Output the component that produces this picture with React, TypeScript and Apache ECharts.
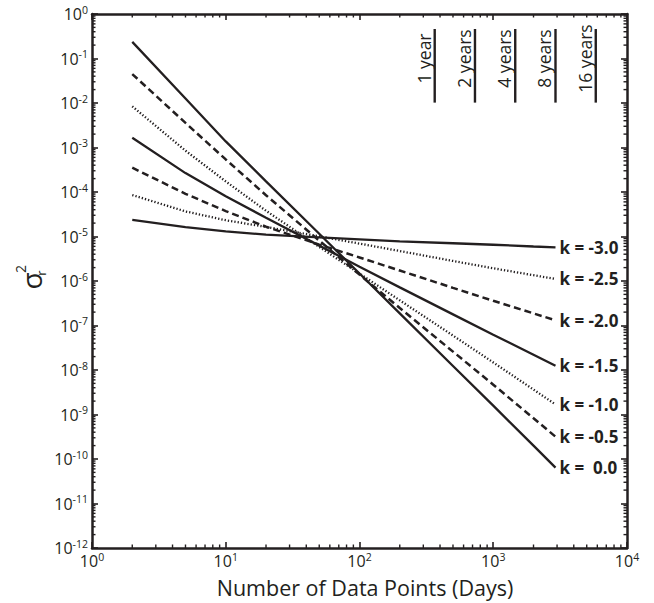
import React, { useEffect, useRef } from "react";
import * as echarts from "echarts";

// Number of data points (days)
const N = [2, 5, 10, 20, 50, 100, 200, 500, 1000, 2000, 2920];
// sigma_r^2, one array per spectral index k
const k00 = [2.36e-1, 1.26e-2, 1.37e-3, 1.73e-4, 1.15e-5, 1.47e-6, 1.87e-7, 1.23e-8, 1.58e-9, 2.0e-10, 6.4e-11];
const k05 = [4.47e-2, 3.57e-3, 5.39e-4, 8.47e-5, 8.07e-6, 1.39e-6, 2.47e-7, 2.59e-8, 4.68e-9, 8.24e-10, 3.17e-10];
const k10 = [8.41e-3, 8.49e-4, 1.73e-4, 3.79e-5, 5.83e-6, 1.47e-6, 3.68e-7, 5.94e-8, 1.48e-8, 3.63e-9, 1.68e-9];
const k15 = [1.65e-3, 2.66e-4, 8.0e-5, 2.64e-5, 6.24e-6, 2.1e-6, 7.19e-7, 1.78e-7, 6.22e-8, 2.21e-8, 1.25e-8];
const k20 = [3.52e-4, 9.1e-5, 3.73e-5, 1.66e-5, 6.58e-6, 3.38e-6, 1.72e-6, 7.02e-7, 3.59e-7, 1.87e-7, 1.31e-7];
const k25 = [8.55e-5, 3.66e-5, 2.32e-5, 1.64e-5, 1.01e-5, 6.92e-6, 4.72e-6, 2.82e-6, 1.93e-6, 1.35e-6, 1.11e-6];
const k30 = [2.36e-5, 1.62e-5, 1.3e-5, 1.1e-5, 9.58e-6, 8.63e-6, 7.75e-6, 7.06e-6, 6.53e-6, 5.96e-6, 5.69e-6];

const seriesNames = ["k =  0.0", "k = -0.5", "k = -1.0", "k = -1.5", "k = -2.0", "k = -2.5", "k = -3.0"];
const seriesValues = [k00, k05, k10, k15, k20, k25, k30];
const seriesKinds = ["solid", "dashed", "dotted", "solid", "dashed", "dotted", "solid"];

const yearDays = [365, 730, 1460, 2920, 5840];
const yearLabels = ["1 year", "2 years", "4 years", "8 years", "16 years"];

// tick labels: powers of ten
const xTickExponents = [0, 1, 2, 3, 4];
const yTickExponents = [-12, -11, -10, -9, -8, -7, -6, -5, -4, -3, -2, -1, 0];
const minorMultipliers = [2, 3, 4, 5, 6, 7, 8, 9];

const FONT = "Open Sans";
const INK = "#231f20";

const xTickValues = xTickExponents.map((e) => Math.pow(10, e));
const yTickValues = yTickExponents.map((e) => Math.pow(10, e));

function lineStyleFor(kind: string) {
  if (kind === "dashed") return { type: [7, 4] as any, width: 2.5 };
  if (kind === "dotted") return { type: [1.3, 2.0] as any, width: 2.3 };
  return { type: "solid" as any, width: 2.3 };
}

function supLabel(v: number) {
  const e = Math.round(Math.log10(v));
  return `{b|10}{s|${e}}`;
}

const richLabel = {
  b: { fontSize: 16, fontFamily: FONT, color: INK, lineHeight: 20 },
  s: { fontSize: 10.5, fontFamily: FONT, color: INK, lineHeight: 20, verticalAlign: "top" },
};

export default function App() {
  const ref = useRef<HTMLDivElement>(null);
  useEffect(() => {
    if (!ref.current) return;
    const chart = echarts.init(ref.current, null, { renderer: "svg" });

    const lineSeries = seriesValues.map((vals, i) => ({
      name: seriesNames[i],
      type: "line",
      xAxisIndex: 0,
      yAxisIndex: 0,
      data: N.map((n, j) => [n, vals[j]]),
      showSymbol: false,
      symbol: "none",
      lineStyle: { color: INK, ...lineStyleFor(seriesKinds[i]) },
      endLabel: {
        show: true,
        formatter: seriesNames[i],
        color: INK,
        fontFamily: FONT,
        fontWeight: "bold",
        fontSize: 17,
        distance: 4,
      },
      silent: true,
      z: 3,
    }));

    const xMinor: number[][] = [];
    xTickExponents.slice(0, -1).forEach((e) => minorMultipliers.forEach((m) => xMinor.push([m * Math.pow(10, e), 1])));
    const yMinor: number[][] = [];
    yTickExponents.slice(0, -1).forEach((e) => minorMultipliers.forEach((m) => yMinor.push([1, m * Math.pow(10, e)])));

    const axisCommon = {
      axisLine: { show: true, lineStyle: { color: INK, width: 2.5 } },
      splitLine: { show: false },
    };

    const option: any = {
      animation: false,
      backgroundColor: "#fff",
      grid: { left: 92, top: 14, width: 535, height: 536, containLabel: false },
      xAxis: [
        {
          type: "log",
          logBase: 10,
          min: 1,
          max: 10000,
          position: "bottom",
          name: "Number of Data Points (Days)",
          nameLocation: "middle",
          nameGap: 28,
          nameTextStyle: { fontFamily: FONT, fontSize: 21.5, color: INK, padding: [0, 0, 0, 11] },
          ...axisCommon,
          axisTick: { show: true, inside: true, length: 6, customValues: xTickValues, lineStyle: { color: INK, width: 1.6 } },
          axisLabel: { customValues: xTickValues, formatter: supLabel, rich: richLabel, fontSize: 16, fontFamily: FONT, color: INK, margin: 3 },
        },
        {
          type: "log",
          logBase: 10,
          min: 1,
          max: 10000,
          position: "top",
          ...axisCommon,
          axisTick: { show: true, inside: true, length: 6, customValues: xTickValues, lineStyle: { color: INK, width: 1.6 } },
          axisLabel: { show: false },
        },
      ],
      yAxis: [
        {
          type: "log",
          logBase: 10,
          min: 1e-12,
          max: 1,
          position: "left",
          ...axisCommon,
          axisTick: { show: true, inside: true, length: 6, customValues: yTickValues, lineStyle: { color: INK, width: 1.6 } },
          axisLabel: { customValues: yTickValues, formatter: supLabel, rich: richLabel, fontSize: 16, fontFamily: FONT, color: INK, margin: 4 },
        },
        {
          type: "log",
          logBase: 10,
          min: 1e-12,
          max: 1,
          position: "right",
          ...axisCommon,
          axisTick: { show: true, inside: true, length: 6, customValues: yTickValues, lineStyle: { color: INK, width: 1.6 } },
          axisLabel: { show: false },
        },
      ],
      graphic: [
        {
          type: "group",
          x: 31,
          y: 281,
          rotation: Math.PI / 2,
          children: [
            { type: "text", x: 0, y: 0, style: { text: "σ", fontSize: 28, fontFamily: FONT, fill: INK, align: "center", verticalAlign: "middle" } },
            { type: "text", x: 8, y: 10, style: { text: "r", fontSize: 13, fontFamily: FONT, fill: INK, align: "center", verticalAlign: "middle" } },
            { type: "text", x: 12, y: -11, style: { text: "2", fontSize: 14, fontFamily: FONT, fill: INK, align: "center", verticalAlign: "middle" } },
          ],
        },
      ],
      series: [
        ...lineSeries,
        {
          type: "custom",
          xAxisIndex: 0,
          yAxisIndex: 0,
          silent: true,
          data: xMinor,
          renderItem: (params: any, api: any) => {
            const p = api.coord([api.value(0), 1]);
            const cs = params.coordSys;
            const bottom = cs.y + cs.height;
            const top = cs.y;
            return {
              type: "group",
              children: [
                { type: "line", shape: { x1: p[0], y1: bottom, x2: p[0], y2: bottom - 3.5 }, style: { stroke: INK, lineWidth: 1.4 } },
                { type: "line", shape: { x1: p[0], y1: top, x2: p[0], y2: top + 3.5 }, style: { stroke: INK, lineWidth: 1.4 } },
              ],
            };
          },
        },
        {
          type: "custom",
          xAxisIndex: 0,
          yAxisIndex: 0,
          silent: true,
          data: yMinor,
          renderItem: (params: any, api: any) => {
            const p = api.coord([1, api.value(1)]);
            const cs = params.coordSys;
            const left = cs.x;
            const right = cs.x + cs.width;
            return {
              type: "group",
              children: [
                { type: "line", shape: { x1: left, y1: p[1], x2: left + 3.5, y2: p[1] }, style: { stroke: INK, lineWidth: 1.4 } },
                { type: "line", shape: { x1: right, y1: p[1], x2: right - 3.5, y2: p[1] }, style: { stroke: INK, lineWidth: 1.4 } },
              ],
            };
          },
        },
        {
          type: "custom",
          xAxisIndex: 0,
          yAxisIndex: 0,
          silent: true,
          data: yearDays.map((d, i) => [d, i]),
          renderItem: (params: any, api: any) => {
            const i = api.value(1);
            const pTop = api.coord([api.value(0), 0.46]);
            const pBot = api.coord([api.value(0), 0.0102]);
            const pMid = api.coord([api.value(0), 0.1]);
            return {
              type: "group",
              children: [
                { type: "line", shape: { x1: pTop[0], y1: pTop[1], x2: pBot[0], y2: pBot[1] }, style: { stroke: INK, lineWidth: 2.4 } },
                {
                  type: "text",
                  x: pMid[0] - 2,
                  y: pMid[1],
                  rotation: Math.PI / 2,
                  style: { text: yearLabels[i], fontSize: 17.5, fontFamily: FONT, fill: INK, align: "center", verticalAlign: "bottom" },
                },
              ],
            };
          },
        },
      ],
    };
    chart.setOption(option);
    return () => chart.dispose();
  }, []);
  return <div ref={ref} style={{ position: "fixed", left: 0, top: 0, width: 654, height: 603, background: "#fff" }} />;
}
